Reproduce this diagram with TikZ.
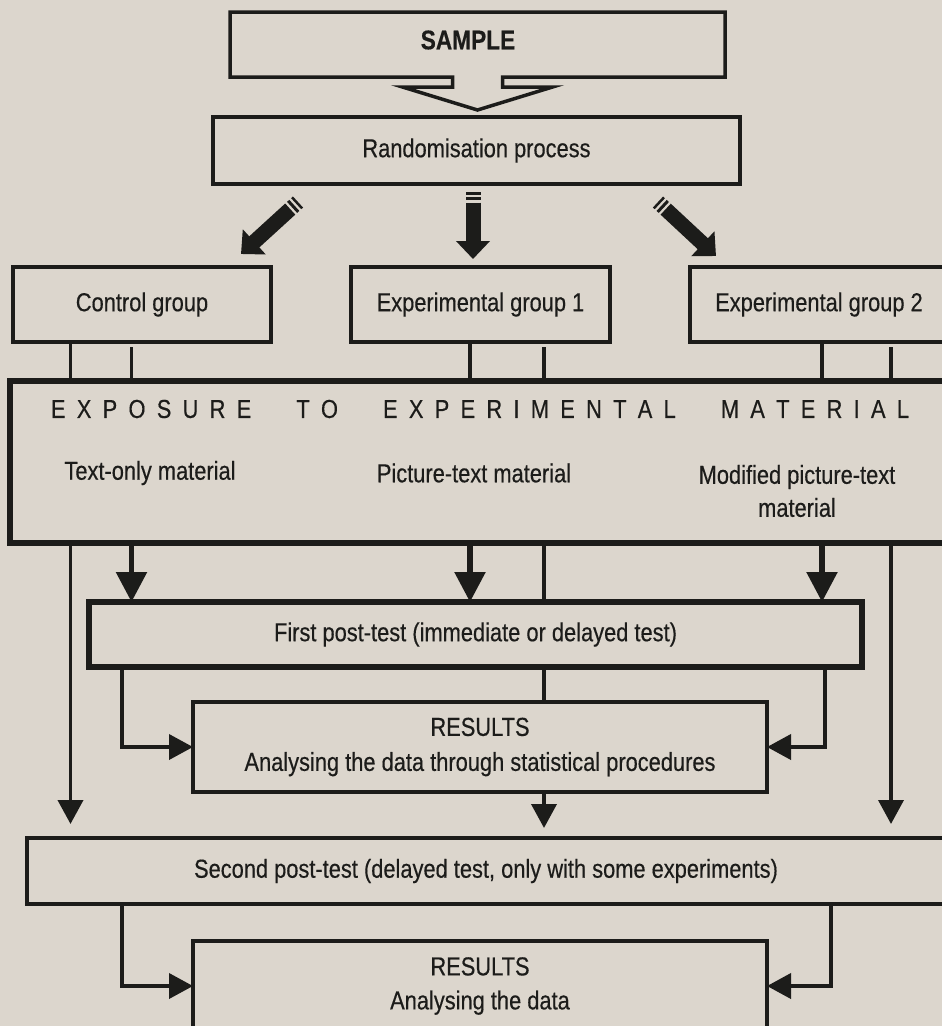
\documentclass[tikz,border=0pt]{standalone}
\usepackage{fontspec}
\setmainfont{Liberation Sans}[FakeStretch=0.84, FakeBold=0.4]
\usetikzlibrary{arrows.meta,calc}
\definecolor{paper}{RGB}{220,214,205}
\definecolor{ink}{RGB}{28,28,26}

% thick "pencil" arrow: two short bars, then shaft with a wide head
\newcommand\fatarrow[2]{%
  \draw[fat] (#1) -- ($(#1)!2.5pt!(#2)$);
  \draw[fat] ($(#1)!5pt!(#2)$) -- ($(#1)!8pt!(#2)$);
  \draw[fat, -{Triangle[width=33pt,length=18pt]}] ($(#1)!10.5pt!(#2)$) -- (#2);
}

\begin{document}
\begin{tikzpicture}[x=1pt,y=-1pt,
  every node/.style={font=\fontsize{26}{33}\selectfont, text=ink, outer sep=0pt},
  box/.style={draw=ink, line width=3.5pt, inner sep=0pt, align=center},
  heavybox/.style={box, line width=6.5pt},
  conn/.style={draw=ink, line width=3.8pt},
  bold conn/.style={draw=ink, line width=5.5pt},
  big tip/.style={-{Triangle[width=30pt,length=30pt]}},
  small tip/.style={-{Triangle[width=25pt,length=24pt]}},
  fat/.style={draw=ink, line width=15pt},
]
\useasboundingbox (0,0) rectangle (942,1026);
\clip (0,0) rectangle (942,1026);
\fill[paper] (0,0) rectangle (942,1026);

% ---- sample with hollow arrow cut into its lower edge
\node[minimum width=495pt, minimum height=65pt, inner sep=0pt] (sample) at (477.5,44.5) {};
\node[font=\fontsize{27}{30}\selectfont\bfseries] (sampletext) at (468,40) {SAMPLE};
\draw[ink, line width=3.5pt, line join=miter]
  (sample.south west) -- (sample.north west) -- (sample.north east) -- (sample.south east)
  -- ($(sample.south)+(25,0)$) -- ++(0,10) -- ++(50,0)
  -- ($(sample.south)+(0,33)$)
  -- ($(sample.south)+(-75,10)$) -- ++(50,0)
  -- ($(sample.south)+(-25,0)$) -- cycle;

\node[box, minimum width=527pt, minimum height=67pt] (rand) at (476.5,150.5) {Randomisation process};

% ---- groups
\node[box, minimum width=258pt, minimum height=75pt] (ctrl) at (142,304.5) {Control group};
\node[box, minimum width=259pt, minimum height=75pt] (eg1) at (480.5,304.5) {Experimental group 1};
\node[box, minimum width=258pt, minimum height=75pt] (eg2) at (819,304.5) {Experimental group 2};

\coordinate (f1s) at (298,202);  \coordinate (f1e) at (241,254);
\coordinate (f2s) at (473,192);  \coordinate (f2e) at (473,259);
\coordinate (f3s) at (658,202);  \coordinate (f3e) at (716,256);
\fatarrow{f1s}{f1e}
\fatarrow{f2s}{f2e}
\fatarrow{f3s}{f3e}

% ---- exposure block
\node[heavybox, minimum width=940pt, minimum height=162pt] (expo) at (480,462) {};
\node (expotitle) at (480,409) {\makebox[858pt][s]{E\hfil X\hfil P\hfil O\hfil S\hfil U\hfil R\hfil E\hskip 0pt plus 4fil
  T\hfil O\hskip 0pt plus 4fil
  E\hfil X\hfil P\hfil E\hfil R\hfil I\hfil M\hfil E\hfil N\hfil T\hfil A\hfil L\hskip 0pt plus 4fil
  M\hfil A\hfil T\hfil E\hfil R\hfil I\hfil A\hfil L}};
\node (m1) at (150,473) {Text-only material};
\node (m2) at (474,473) {Picture-text material};
\node[align=center] (m3) at (797,491) {Modified picture-text\\material};

% ---- tests and results
\node[heavybox, minimum width=773pt, minimum height=65pt] (fp) at (475.5,634.5) {First post-test (immediate or delayed test)};
\node[box, minimum width=574pt, minimum height=90pt, font=\fontsize{26}{35}\selectfont] (res1) at (480,747) {RESULTS\\Analysing the data through statistical procedures};
\node[box, minimum width=918pt, minimum height=66pt] (sec) at (486,871) {Second post-test (delayed test, only with some experiments)};
\node[box, minimum width=574pt, minimum height=90pt, font=\fontsize{26}{34}\selectfont] (res2) at (480,986) {RESULTS\\Analysing the data};

% ---- vertical lanes
\coordinate (lA) at (70.5,0);
\coordinate (lB) at (131.5,0);
\coordinate (lC) at (470,0);
\coordinate (lD) at (544,0);
\coordinate (lE) at (822,0);
\coordinate (lF) at (891,0);
\coordinate (lG) at (122,0);
\coordinate (lH) at (825,0);
\coordinate (lI) at (831,0);

% groups into exposure
\draw[conn] (ctrl.south -| lA) -- (expo.north -| lA);
\draw[conn, shorten <=5pt] (ctrl.south -| lB) -- (expo.north -| lB);
\draw[conn] (eg1.south -| lC) -- (expo.north -| lC);
\draw[conn, shorten <=5pt] (eg1.south -| lD) -- (expo.north -| lD);
\draw[conn] (eg2.south -| lE) -- (expo.north -| lE);
\draw[conn, shorten <=5pt] (eg2.south -| lF) -- (expo.north -| lF);

% exposure to tests
\draw[conn, small tip, shorten >=14pt] (expo.south -| lA) -- (sec.north -| lA);
\draw[bold conn, big tip] (expo.south -| lB) -- (fp.north -| lB);
\draw[bold conn, big tip] (expo.south -| lC) -- (fp.north -| lC);
\draw[conn] (expo.south -| lD) -- (fp.north -| lD);
\draw[bold conn, big tip] (expo.south -| lE) -- (fp.north -| lE);
\draw[conn, small tip, shorten >=14pt] (expo.south -| lF) -- (sec.north -| lF);

% first post-test to results
\draw[conn, small tip] (fp.south -| lG) |- (res1.west);
\draw[conn] (fp.south -| lD) -- (res1.north -| lD);
\draw[conn, small tip] (fp.south -| lH) |- (res1.east);
\draw[conn, small tip, shorten >=10pt] (res1.south -| lD) -- (sec.north -| lD);

% second post-test to results
\draw[conn, small tip] (sec.south -| lG) |- (res2.west);
\draw[conn, small tip] (sec.south -| lI) |- (res2.east);
\end{tikzpicture}
\end{document}
